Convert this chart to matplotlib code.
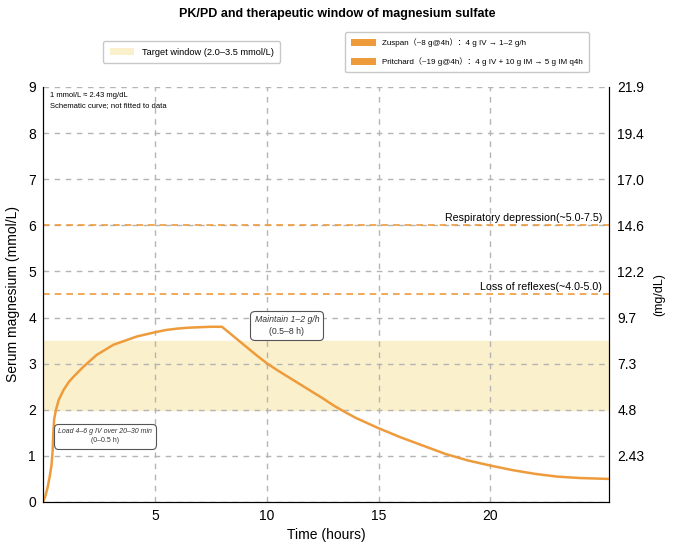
import matplotlib
matplotlib.use('Agg')
import matplotlib.pyplot as plt
from matplotlib.patches import Patch
from matplotlib.offsetbox import TextArea, VPacker, AnnotationBbox
import numpy as np

plt.rcParams['font.family'] = ['Liberation Sans', 'Noto Sans CJK SC', 'DejaVu Sans']

# schematic serum Mg curve (hours, mmol/L)
t_hours = [0, 0.1, 0.2, 0.3, 0.38, 0.43, 0.46, 0.5, 0.58, 0.7, 0.92, 1.15, 1.37, 1.8, 2.4,
           3.15, 4.2, 5.0, 5.5, 6.0, 6.5, 7.0, 7.5, 8.0, 8.5, 9.0, 9.5, 10.0, 10.5, 11.0,
           11.5, 12.0, 12.5, 13.0, 13.5, 14.0, 15.0, 16.0, 17.0, 18.0, 19.0, 20.0, 21.0,
           22.0, 23.0, 24.0, 25.3]
mg_mmol = [0, 0.12, 0.3, 0.55, 0.8, 1.1, 1.5, 1.8, 2.0, 2.21, 2.43, 2.6, 2.72, 2.93, 3.19,
           3.41, 3.59, 3.68, 3.73, 3.76, 3.78, 3.79, 3.80, 3.80, 3.60, 3.40, 3.20, 3.01, 2.85,
           2.70, 2.55, 2.40, 2.25, 2.09, 1.95, 1.82, 1.60, 1.40, 1.22, 1.04, 0.90, 0.79, 0.69,
           0.61, 0.55, 0.52, 0.50]

window = (2.0, 3.5)
loss_reflex = 4.5
resp_dep = 6.0

y_ticks = [0, 1, 2, 3, 4, 5, 6, 7, 8, 9]
x_ticks = [5, 10, 15, 20]
right_ticks = [1, 2, 3, 4, 5, 6, 7, 8, 9]
right_labels = ['2.43', '4.8', '7.3', '9.7', '12.2', '14.6', '17.0', '19.4', '21.9']

orange = '#EE9B3C'
band = '#FBF0CC'
grid_c = '#b4b4b4'

fig = plt.figure(figsize=(6.75, 5.45), dpi=100)
ax = fig.add_axes([0.0637, 0.0789, 0.8385, 0.7615])

ax.axhspan(window[0], window[1], color=band, zorder=0)
ax.plot(t_hours, mg_mmol, color=orange, lw=1.8, zorder=3)
ax.axhline(loss_reflex, color=orange, lw=1.2, ls=(0, (4, 3)), zorder=2)
ax.axhline(resp_dep, color=orange, lw=1.2, ls=(0, (4, 3)), zorder=2)

ax.set_xlim(0, 25.3)
ax.set_ylim(0, 9)
ax.set_xticks(x_ticks)
ax.set_yticks(y_ticks)
ax.grid(True, color=grid_c, ls=(0, (4, 4)), lw=1.0, zorder=1)
ax.set_axisbelow(True)
ax.spines['top'].set_visible(False)
ax.tick_params(length=0, pad=5, labelsize=10)
ax.set_xlabel('Time (hours)', fontsize=10, labelpad=4)
ax.set_ylabel('Serum magnesium (mmol/L)', fontsize=10, labelpad=6)

ax2 = ax.twinx()
ax2.set_ylim(0, 9)
ax2.set_yticks(right_ticks)
ax2.set_yticklabels(right_labels)
ax2.tick_params(length=0, pad=6, labelsize=10)
ax2.spines['top'].set_visible(False)
ax2.set_ylabel('(mg/dL)', fontsize=9, labelpad=6)

ax.text(0.013, 0.988, '1 mmol/L ≈ 2.43 mg/dL\nSchematic curve; not fitted to data',
        transform=ax.transAxes, ha='left', va='top', fontsize=5.5, linespacing=1.6)

ax.text(25.0, resp_dep + 0.06, 'Respiratory depression(~5.0-7.5)', ha='right', va='bottom', fontsize=7.7)
ax.text(25.0, loss_reflex + 0.06, 'Loss of reflexes(~4.0-5.0)', ha='right', va='bottom', fontsize=7.7)


def phase_box(x, y, line1, line2, fs):
    # italic first line, plain second line, one rounded frame
    top = TextArea(line1, textprops=dict(fontsize=fs, style='italic', color='#333333'))
    bot = TextArea(line2, textprops=dict(fontsize=fs, color='#333333'))
    pack = VPacker(children=[top, bot], align='center', pad=0, sep=2)
    ab = AnnotationBbox(pack, (x, y), xycoords='data', box_alignment=(0.5, 0.5), pad=0.3,
                        frameon=True, zorder=5,
                        bboxprops=dict(boxstyle='round,pad=0.3', fc='white', ec='#555555', lw=0.8))
    ax.add_artist(ab)


phase_box(10.9, 3.83, 'Maintain 1–2 g/h', '(0.5–8 h)', 6.3)
phase_box(2.78, 1.43, 'Load 4–6 g IV over 20–30 min', '(0–0.5 h)', 5.0)

fig.suptitle('PK/PD and therapeutic window of magnesium sulfate', x=0.5, y=0.985,
             fontsize=9, fontweight='bold')

leg1 = fig.legend(handles=[Patch(facecolor=band, edgecolor='none',
                                 label='Target window (2.0–3.5 mmol/L)')],
                  loc='center', bbox_to_anchor=(0.284, 0.904), fontsize=6.7,
                  frameon=True, edgecolor='#bbbbbb', fancybox=True, handlelength=2.6,
                  borderpad=0.7)
leg2 = fig.legend(handles=[Patch(facecolor=orange, edgecolor='none',
                                 label='Zuspan（~8 g@4h）：4 g IV → 1–2 g/h'),
                           Patch(facecolor=orange, edgecolor='none',
                                 label='Pritchard（~19 g@4h）：4 g IV + 10 g IM → 5 g IM q4h')],
                  loc='center', bbox_to_anchor=(0.692, 0.904), fontsize=5.8,
                  frameon=True, edgecolor='#bbbbbb', fancybox=True, handlelength=3,
                  handleheight=1.0, labelspacing=1.25, borderpad=0.75)

fig.savefig('out.png', dpi=100)
